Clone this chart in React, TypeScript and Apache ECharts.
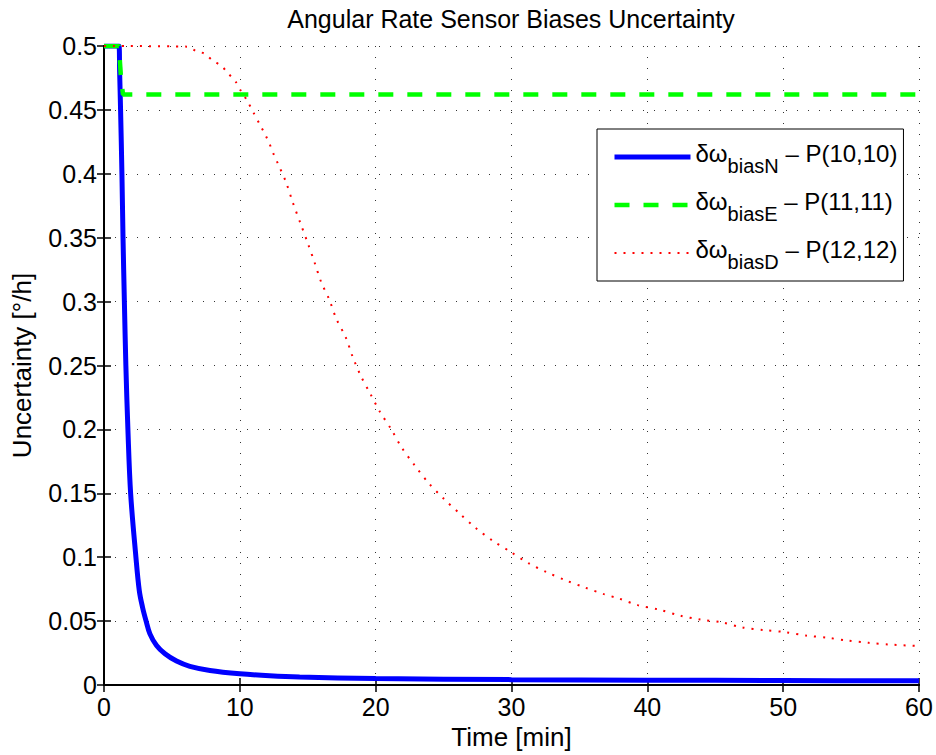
import React, { useEffect, useRef } from 'react';
import * as echarts from 'echarts';

const xTicksInterval = 10;
const yTicksInterval = 0.05;

const biasN: [number, number][] = [
  [0, 0.5], [1.1, 0.5], [1.15, 0.48], [1.22, 0.45], [1.32, 0.4], [1.4, 0.35], [1.5, 0.3],
  [1.61, 0.25], [1.76, 0.2], [1.96, 0.15], [2.35, 0.1], [2.6, 0.0737], [2.84, 0.0607],
  [3.09, 0.0504], [3.38, 0.04], [3.87, 0.0309], [4.49, 0.0244], [5.34, 0.0187],
  [6.32, 0.0146], [7.8, 0.0114], [10, 0.0088], [12.2, 0.0072], [14.4, 0.0062],
  [20, 0.005], [30, 0.0042], [40, 0.0038], [50, 0.0035], [60, 0.0033],
];

const biasE: [number, number][] = [
  [0, 0.5], [1.1, 0.5], [1.25, 0.475], [1.4, 0.462], [60, 0.462],
];

const biasD: [number, number][] = [
  [0, 0.5], [6.1, 0.4995], [6.8, 0.496], [7.4, 0.494], [8.0, 0.4886], [8.65, 0.4844],
  [9.1, 0.479], [9.7, 0.472], [10.1, 0.4645], [10.5, 0.458], [11.0, 0.448], [11.5, 0.438],
  [11.9, 0.43], [12.2, 0.423], [12.5, 0.415], [12.8, 0.408], [13.4, 0.3935], [13.9, 0.3775],
  [14.46, 0.3614], [15.0, 0.3458], [15.5, 0.3307], [16.0, 0.315], [16.57, 0.302],
  [17.1, 0.2866], [17.8, 0.272], [18.3, 0.257], [18.9, 0.242], [19.6, 0.228], [20.3, 0.214],
  [21.15, 0.2], [21.9, 0.186], [22.86, 0.172], [23.9, 0.158], [25.0, 0.1459], [26.2, 0.134],
  [27.35, 0.123], [28.6, 0.113], [29.9, 0.1044], [31.25, 0.0953], [32.55, 0.0885],
  [33.97, 0.082], [35.4, 0.0763], [36.8, 0.0711], [37.9, 0.0677], [39.3, 0.0625],
  [40.9, 0.0589], [42.4, 0.0543], [43.9, 0.0512], [45.5, 0.049], [47, 0.045], [48.6, 0.043],
  [50.2, 0.0413], [51.7, 0.0387], [53.3, 0.0369], [54.7, 0.0348], [56.3, 0.033],
  [57.8, 0.0317], [60, 0.0305],
];

const seriesKeys = ['biasN', 'biasE', 'biasD'];
const legendSuffix: Record<string, string> = {
  biasN: 'P(10,10)',
  biasE: 'P(11,11)',
  biasD: 'P(12,12)',
};

const FONT = '"Liberation Sans", Arial, Helvetica, sans-serif';

export default function App() {
  const ref = useRef<HTMLDivElement>(null);
  useEffect(() => {
    const chart = echarts.init(ref.current!, null, { renderer: 'svg' });
    const axisLine = { show: true, lineStyle: { color: '#000', width: 2 } };
    const tick = { show: true, inside: true, length: 7, lineStyle: { color: '#000', width: 1.5 } };
    const grid = { show: true, lineStyle: { color: '#333', width: 1, type: [1, 10] } };
    chart.setOption({
      animation: false,
      backgroundColor: '#fff',
      title: {
        text: 'Angular Rate Sensor Biases Uncertainty',
        left: 506,
        textAlign: 'center',
        top: 1,
        textStyle: { fontFamily: FONT, fontSize: 25, fontWeight: 'normal', color: '#000' },
      },
      grid: { left: 104, right: 17, top: 46, bottom: 67, containLabel: false },
      xAxis: [
        {
          type: 'value', min: 0, max: 60, interval: xTicksInterval, position: 'bottom',
          name: 'Time [min]', nameLocation: 'middle', nameGap: 39,
          nameTextStyle: { fontFamily: FONT, fontSize: 26, color: '#000' },
          axisLine, axisTick: tick, splitLine: grid,
          axisLabel: { fontFamily: FONT, fontSize: 25, color: '#000', margin: 9 },
        },
        {
          type: 'value', min: 0, max: 60, interval: xTicksInterval, position: 'top',
          axisLine, axisTick: tick, splitLine: { show: false }, axisLabel: { show: false },
        },
      ],
      yAxis: [
        {
          type: 'value', min: 0, max: 0.5, interval: yTicksInterval, position: 'left',
          name: 'Uncertainty [°/h]', nameLocation: 'middle', nameGap: 69,
          nameTextStyle: { fontFamily: FONT, fontSize: 26, color: '#000' },
          axisLine, axisTick: tick, splitLine: grid,
          axisLabel: { fontFamily: FONT, fontSize: 25, color: '#000', margin: 7 },
        },
        {
          type: 'value', min: 0, max: 0.5, interval: yTicksInterval, position: 'right',
          axisLine, axisTick: tick, splitLine: { show: false }, axisLabel: { show: false },
        },
      ],
      legend: {
        orient: 'vertical',
        left: 597,
        top: 129,
        backgroundColor: '#fff',
        borderColor: '#000',
        borderWidth: 1,
        borderRadius: 0,
        padding: [9, 6, 9, 15],
        itemWidth: 76,
        itemHeight: 14,
        itemGap: 10,
        itemStyle: { opacity: 0 },
        lineStyle: { width: 'inherit' },
        data: seriesKeys,
        formatter: (name: string) =>
          `{a|δω}{s|${name}}{a| – ${legendSuffix[name]}}`,
        textStyle: {
          rich: {
            a: { fontFamily: FONT, fontSize: 24, color: '#000', lineHeight: 30, padding: [0, 0, 7, 0] },
            s: { fontFamily: FONT, fontSize: 20, color: '#000', lineHeight: 20, padding: [18, 0, 0, 0] },
          },
        },
      },
      series: [
        {
          name: 'biasN', type: 'line', data: biasN, showSymbol: false, symbol: 'none',
          smooth: 0.35,
          lineStyle: { color: '#0000ff', width: 5 }, itemStyle: { color: '#0000ff' },
        },
        {
          name: 'biasE', type: 'line', data: biasE, showSymbol: false, symbol: 'none',
          lineStyle: { color: '#00ff00', width: 4.5, type: [15, 14] }, itemStyle: { color: '#00ff00' },
        },
        {
          name: 'biasD', type: 'line', data: biasD, showSymbol: false, symbol: 'none',
          smooth: 0.3,
          lineStyle: { color: '#ff0000', width: 2, type: [2, 7] }, itemStyle: { color: '#ff0000' },
        },
      ],
    });
    return () => chart.dispose();
  }, []);
  return <div ref={ref} style={{ position: 'absolute', left: 0, top: 0, width: 936, height: 755 }} />;
}
